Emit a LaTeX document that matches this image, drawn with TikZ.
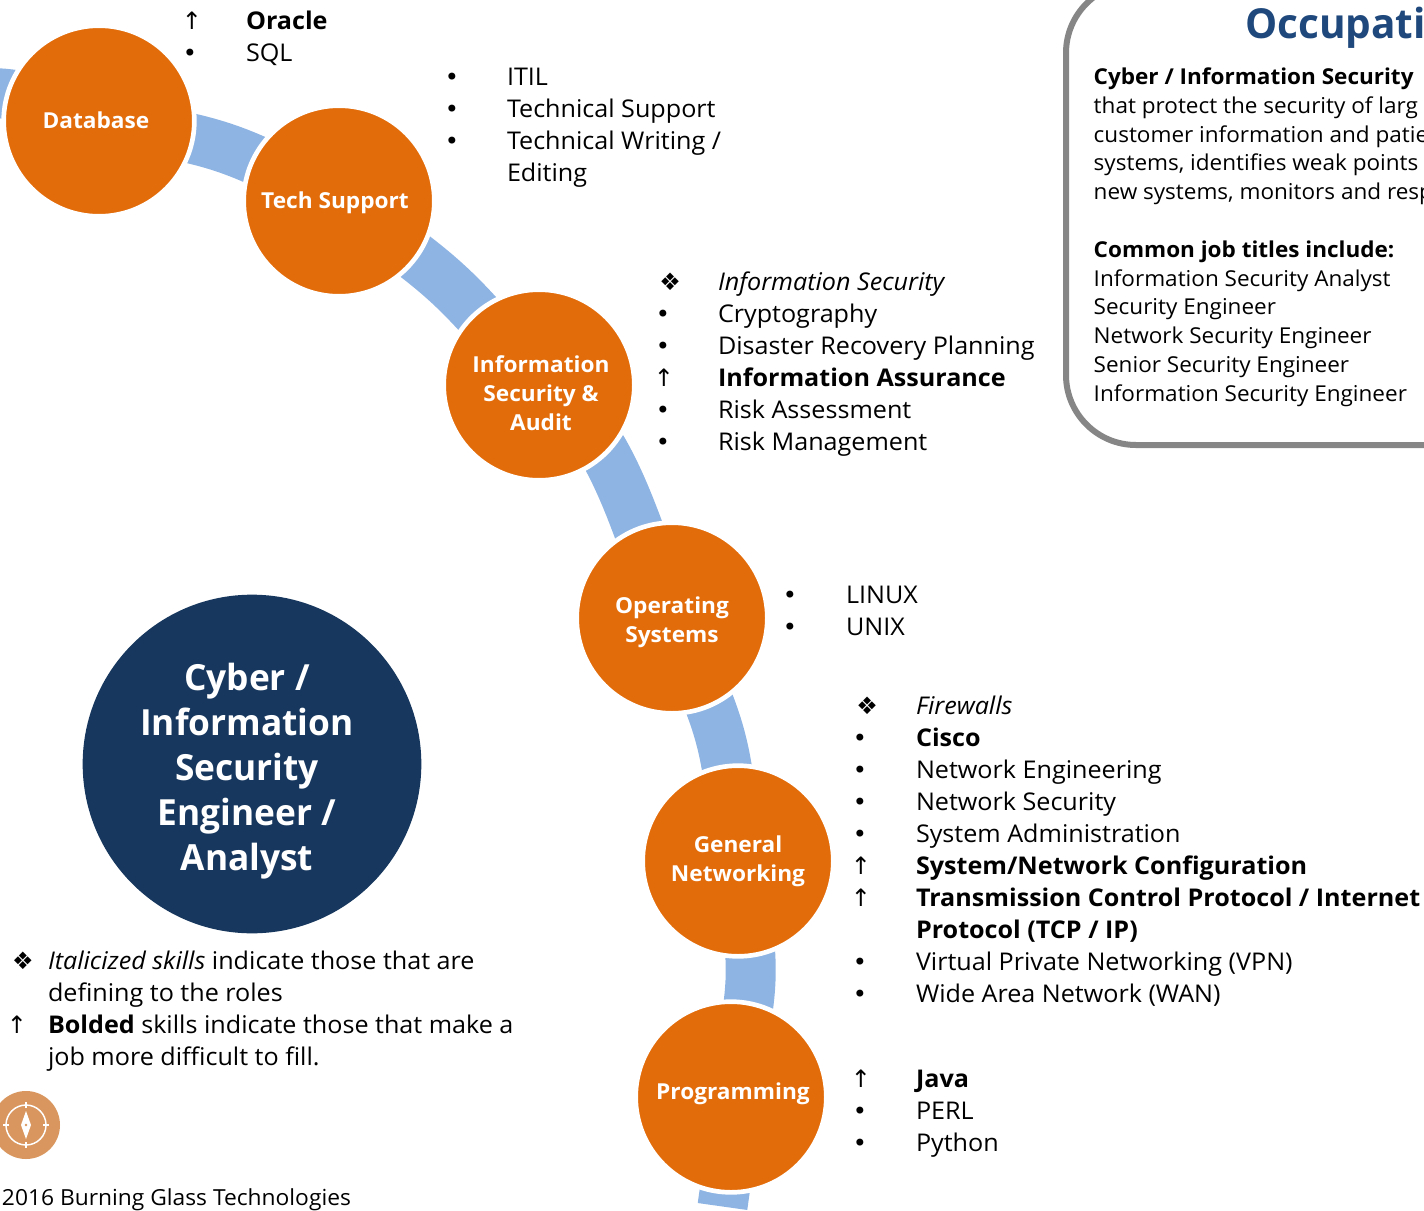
\documentclass[tikz,border=0pt]{standalone}
\usepackage{fontspec}
\setmainfont{Open Sans}[FakeStretch=1.03]
\newfontfamily\bigf{Open Sans}[FakeStretch=0.98]
\newfontfamily\symf{DejaVu Sans}
\usetikzlibrary{backgrounds}
\definecolor{orangeC}{HTML}{E36C0A}
\definecolor{bandC}{HTML}{8EB4E3}
\definecolor{navyC}{HTML}{17375E}
\definecolor{titleC}{HTML}{1F497D}
\definecolor{panelC}{HTML}{868686}
\definecolor{iconC}{HTML}{D9975F}
\newcounter{ln}
\tikzset{
 x=0.75pt,y=-0.75pt,
 band/.style={draw=bandC,line width=37.5pt,line cap=butt},
 stepnode/.style={circle,fill=orangeC,draw=white,line width=3.5pt,minimum size=143pt,inner sep=0pt,outer sep=0pt},
 steptxt/.style={text=white,font=\fontsize{16.5}{21.7}\selectfont\bfseries,align=center,inner sep=0pt},
 bigtxt/.style={text=white,font=\bigf\fontsize{27}{33.8}\selectfont\bfseries,align=center,inner sep=0pt},
 itemtxt/.style={anchor=base west,inner sep=0pt,xshift=-0.2pt,font=\fontsize{18.3}{24}\selectfont},
 pitem/.style={anchor=base west,inner sep=0pt,xshift=-0.4pt,font=\fontsize{16.4}{21}\selectfont},
 bulletmark/.style={anchor=base,inner sep=0pt,font=\fontsize{17.6}{24}\selectfont},
}
% bullet x, y centre, mark, text x, text
\newcommand\itm[5]{\stepcounter{ln}%
 \node[bulletmark] (m\theln) at (#1,#2+9) {#3};%
 \node[itemtxt] (t\theln) at (#4,#2+9) {#5};}
\newcommand\dotb{{\symf\fontsize{18}{18}\selectfont •}}
\newcommand\upb{{\symf\fontsize{18}{18}\selectfont ↑}}
\newcommand\diab{{\symf\fontsize{18}{18}\selectfont ❖}}
\newcommand\pl[2]{\stepcounter{ln}\node[pitem] (p\theln) at (1094,#1+8) {#2};}
\begin{document}
\begin{tikzpicture}
\useasboundingbox (0,0) rectangle (1424,1210);
\clip (0,0) rectangle (1424,1210);
% steps
\node[stepnode] (db) at (99,121) {};
\node[stepnode] (ts) at (339,201) {};
\node[stepnode] (is) at (539,385) {};
\node[stepnode] (os) at (672,618) {};
\node[stepnode] (gn) at (738,861) {};
\node[stepnode] (pr) at (731,1097) {};
\coordinate (prev) at (-100,110);
\coordinate (next) at (722.5,1206.5);
\begin{pgfonlayer}{background}
\clip (0,0) rectangle (1424,1210);
\draw[band] (prev) .. controls (0,86) .. (db.center);
\draw[band] (db.center) .. controls (225,143) .. (ts.center);
\draw[band] (ts.center) .. controls (451,281) .. (is.center);
\draw[band] (is.center) .. controls (615,420) and (640,548) .. (os.center);
\draw[band] (os.center) .. controls (725,735) .. (gn.center);
\draw[band] (gn.center) .. controls (756,977) .. (pr.center);
\draw[band] (pr.center) .. controls (731,1146) .. (next);
\end{pgfonlayer}
\node[steptxt] (dbt) at (96,120) {Database};
\node[steptxt] (tst) at (335,203) {Tech Support};
\node[steptxt] (ist) at (541,393) {Information\\Security \&\\Audit};
\node[steptxt] (ost) at (672,622) {Operating\\Systems};
\node[steptxt] (gnt) at (738,861) {General\\Networking};
\node[steptxt] (prt) at (733,1094) {Programming};
% big
\node[circle,fill=navyC,minimum size=254pt,inner sep=0pt] (big) at (252,764) {};
\node[bigtxt] (bigt) at (247,771) {Cyber /\\Information\\Security\\Engineer /\\Analyst};
% lists
\itm{192}{20}{\upb}{246}{\bfseries Oracle}
\itm{190}{52}{\dotb}{246}{SQL}
\itm{452}{76}{\dotb}{507}{ITIL}
\itm{452}{108}{\dotb}{507}{Technical Support}
\itm{452}{140}{\dotb}{507}{Technical Writing /}
\node[itemtxt] (w2) at (507,181) {Editing};
\itm{670}{281}{\diab}{718}{\itshape Information Security}
\itm{663}{313}{\dotb}{718}{Cryptography}
\itm{663}{345}{\dotb}{718}{Disaster Recovery Planning}
\itm{664}{377}{\upb}{718}{\bfseries Information Assurance}
\itm{663}{409}{\dotb}{718}{Risk Assessment}
\itm{663}{441}{\dotb}{718}{Risk Management}
\itm{790}{594}{\dotb}{846}{LINUX}
\itm{790}{626}{\dotb}{846}{UNIX}
\itm{867}{705}{\diab}{916}{\itshape Firewalls}
\itm{860}{737}{\dotb}{916}{\bfseries Cisco}
\itm{860}{769}{\dotb}{916}{Network Engineering}
\itm{860}{801}{\dotb}{916}{Network Security}
\itm{860}{833}{\dotb}{916}{System Administration}
\itm{861}{865}{\upb}{916}{\bfseries System/Network Configuration}
\itm{861}{897}{\upb}{916}{\bfseries Transmission Control Protocol / Internet}
\node[itemtxt] (n8) at (916,938) {\bfseries Protocol (TCP / IP)};
\itm{860}{961}{\dotb}{916}{Virtual Private Networking (VPN)}
\itm{860}{993}{\dotb}{916}{Wide Area Network (WAN)}
\itm{861}{1078}{\upb}{916}{\bfseries Java}
\itm{860}{1110}{\dotb}{916}{PERL}
\itm{860}{1142}{\dotb}{916}{Python}
% legend
\itm{23}{960}{\diab}{48}{{\itshape Italicized skills} indicate those that are}
\node[itemtxt] (l2) at (48,1001) {defining to the roles};
\itm{17}{1024}{\upb}{48}{{\bfseries Bolded} skills indicate those that make a}
\node[itemtxt] (l4) at (48,1065) {job more difficult to fill.};
% compass
\node[circle,fill=iconC,minimum size=51pt,inner sep=0pt] (ico) at (26,1125) {};
\draw[white,line width=1.1pt] (ico.center) circle[radius=20];
\foreach \a in {0,90,180,270}{\draw[white,line width=0.9pt] (ico.center) ++(\a:17) -- ++(\a:6);}
\fill[white] (26,1111) -- (31,1125) -- (26,1139) -- (21,1125) -- cycle;
\fill[iconC] (26,1125) circle[radius=1.4];
\node[itemtxt,font=\fontsize{16.6}{22}\selectfont] (copy) at (2,1205) {2016 Burning Glass Technologies};
% panel
\draw[panelC,line width=4.5pt,rounded corners=52.5pt,fill=white] (1066,-17) rectangle (1560,445);
\node[anchor=base west,inner sep=0pt,text=titleC,font=\bigf\fontsize{31}{36}\selectfont\bfseries] (title) at (1245,38) {Occupati};
\pl{76}{\bfseries Cyber / Information Security}
\pl{105}{that protect the security of larg}
\pl{134}{customer information and patie}
\pl{162}{systems, identifies weak points}
\pl{191}{new systems, monitors and resp}
\pl{249}{\bfseries Common job titles include:}
\pl{278}{Information Security Analyst}
\pl{306}{Security Engineer}
\pl{335}{Network Security Engineer}
\pl{364}{Senior Security Engineer}
\pl{393}{Information Security Engineer}
\end{tikzpicture}
\end{document}
